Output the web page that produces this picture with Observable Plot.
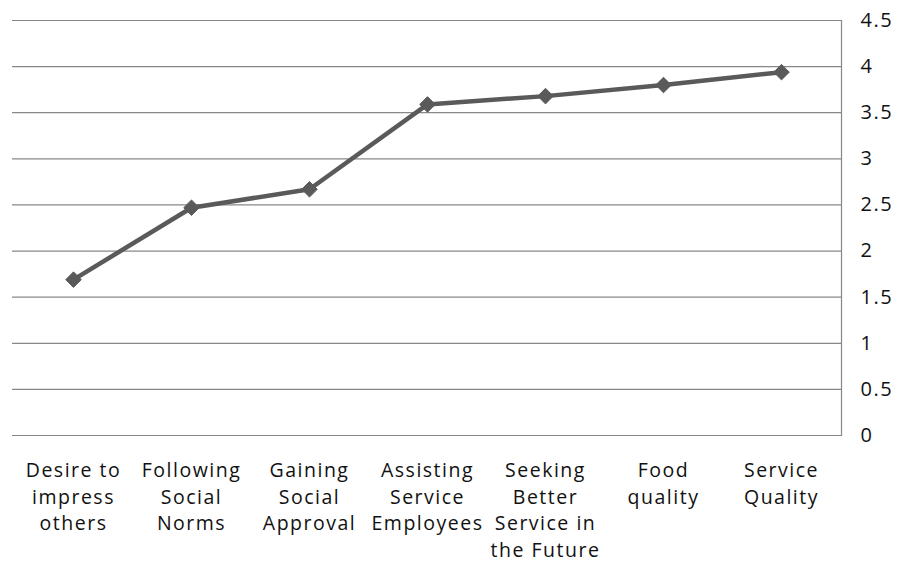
<!DOCTYPE html>
<html>
<head>
<meta charset="utf-8">
<script src="https://cdn.jsdelivr.net/npm/d3@7"></script>
<script src="https://cdn.jsdelivr.net/npm/@observablehq/plot@0.6"></script>
<style>
  html, body { margin: 0; padding: 0; background: #fff; }
  #chart { width: 900px; height: 567px; }
  #chart svg text { letter-spacing: 1.5px; }
</style>
</head>
<body>
<div id="chart"></div>
<script>
const categories = [
  "Desire to\nimpress\nothers",
  "Following\nSocial\nNorms",
  "Gaining\nSocial\nApproval",
  "Assisting\nService\nEmployees",
  "Seeking\nBetter\nService in\nthe Future",
  "Food\nquality",
  "Service\nQuality"
];
const values = [1.69, 2.47, 2.67, 3.59, 3.68, 3.80, 3.94];
const yTicks = [0, 0.5, 1, 1.5, 2, 2.5, 3, 3.5, 4, 4.5];

const data = categories.map((c, i) => ({category: c, value: values[i]}));

const chart = Plot.plot({
  width: 900,
  height: 567,
  marginLeft: 12,
  marginRight: 59,
  marginTop: 20,
  marginBottom: 132,
  style: {fontFamily: "'Open Sans', sans-serif", fontSize: "20px", color: "#000", background: "#fff"},
  x: {type: "point", domain: categories, padding: 0.5, label: null},
  y: {domain: [0, 4.5], label: null},
  marks: [
    Plot.ruleY(yTicks, {stroke: "#888", strokeWidth: 1.2, strokeOpacity: 1}),
    Plot.frame({anchor: "right", stroke: "#888", strokeWidth: 1.2}),
    Plot.axisY({anchor: "right", ticks: yTicks, tickSize: 0, tickPadding: 19, tickFormat: d => String(d), textAnchor: "start", fontSize: 20, fill: "#111", label: null}),
    Plot.axisX({anchor: "bottom", tickSize: 0, tickPadding: 23, lineHeight: 1.36, fontSize: 19.5, fill: "#111", label: null}),
    Plot.line(data, {x: "category", y: "value", stroke: "#5a5a5a", strokeWidth: 4.5}),
    Plot.dot(data, {x: "category", y: "value", symbol: "diamond2", r: 7, fill: "#5a5a5a", stroke: "#5a5a5a", strokeWidth: 1})
  ]
});
document.getElementById("chart").appendChild(chart);
</script>
</body>
</html>
